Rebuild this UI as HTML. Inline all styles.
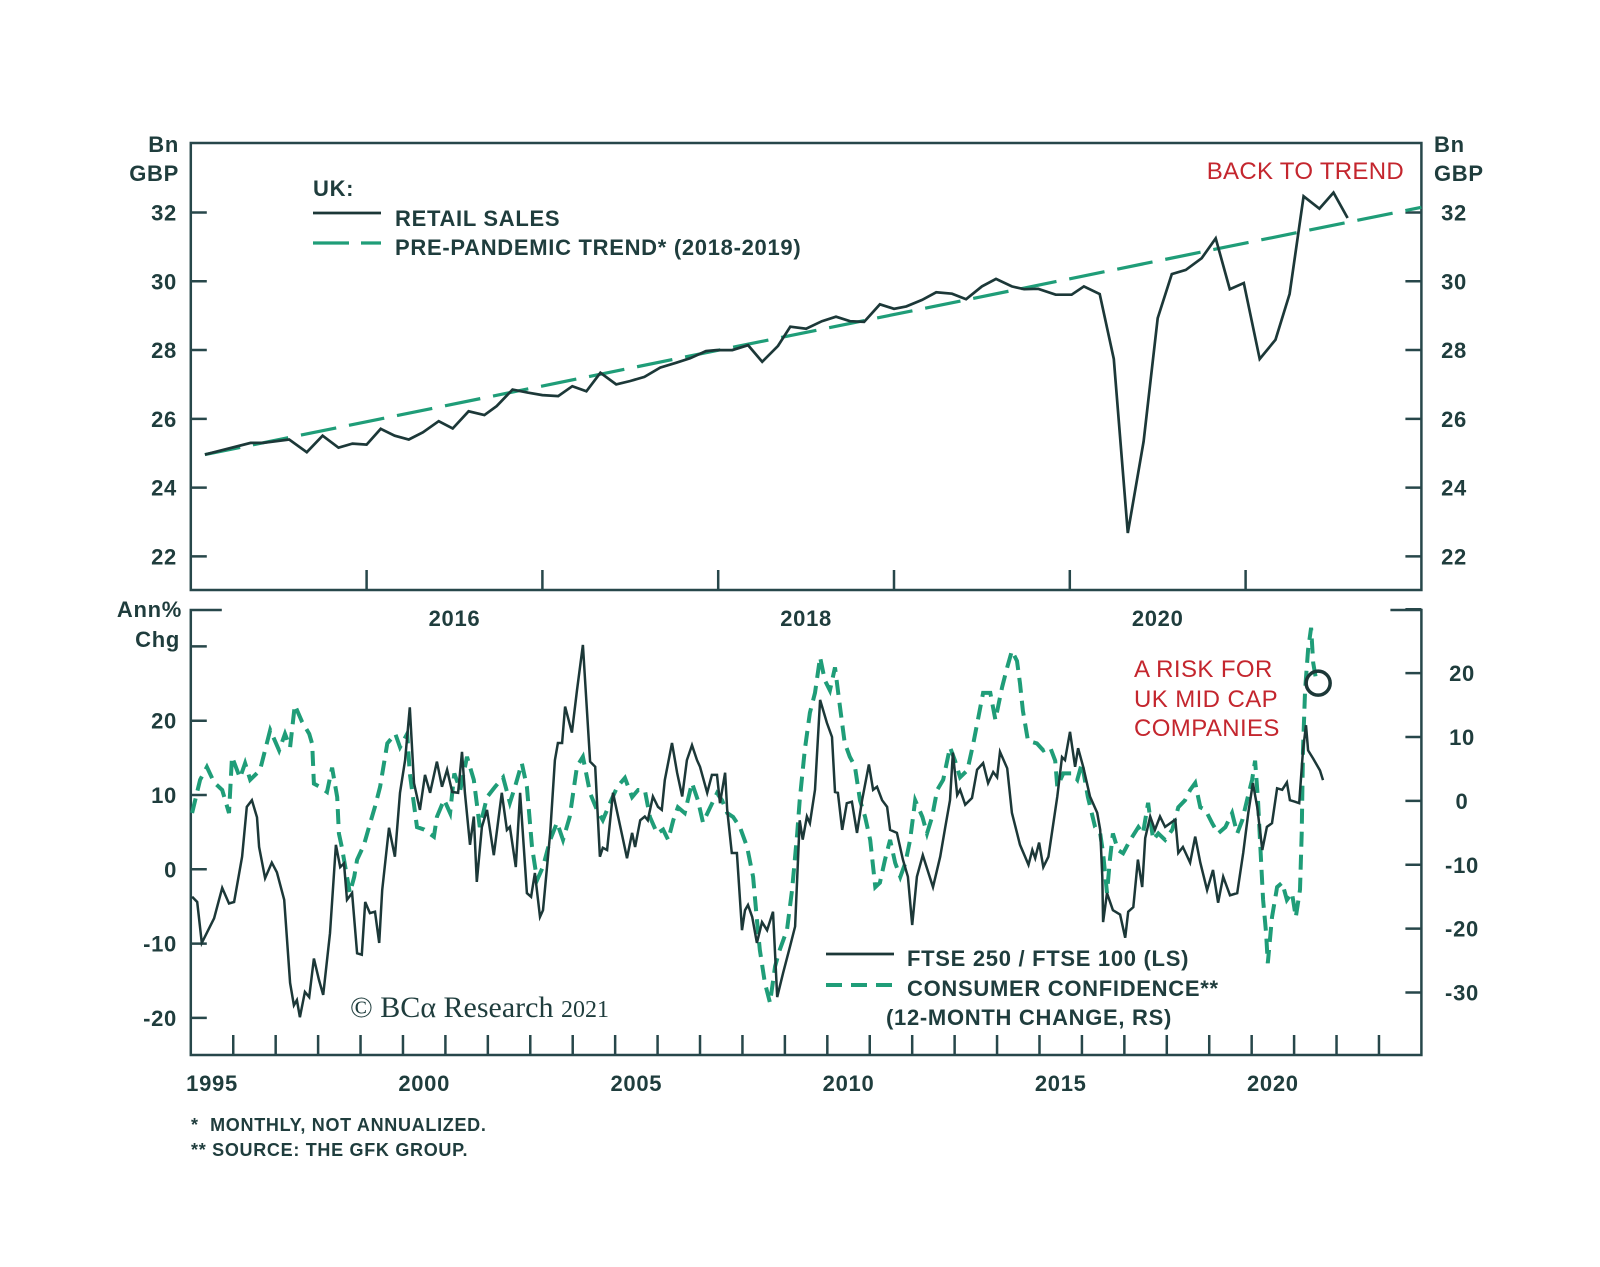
<!DOCTYPE html>
<html><head><meta charset="utf-8">
<style>
html,body{margin:0;padding:0;background:#fff;}
svg{display:block;}
text{font-family:"Liberation Sans",Arial,sans-serif;font-weight:bold;fill:#1f3d3d;letter-spacing:0.7px;}
</style></head>
<body>
<svg id="chart" width="1600" height="1267" viewBox="0 0 1600 1267" xmlns="http://www.w3.org/2000/svg">
<rect x="0" y="0" width="1600" height="1267" fill="#fff"/>
<g id="topPanel"></g>
<g id="botPanel"></g>
<g id="ann">
  <text x="313" y="196" font-size="22">UK:</text>
  <line x1="313" y1="213" x2="381" y2="213" stroke="#1c3838" stroke-width="2.7"/>
  <text x="395" y="226" font-size="22">RETAIL SALES</text>
  <line x1="313" y1="243" x2="381" y2="243" stroke="#1f9d78" stroke-width="3.2" stroke-dasharray="36 12"/>
  <text x="395" y="255" font-size="22">PRE-PANDEMIC TREND* (2018-2019)</text>
  <text x="1404" y="179" font-size="24" text-anchor="end" style="fill:#c4262e;font-weight:normal;letter-spacing:0.3px">BACK TO TREND</text>
  <text x="1134" y="677" font-size="24" style="fill:#c4262e;font-weight:normal;letter-spacing:0.4px">A RISK FOR</text>
  <text x="1134" y="707" font-size="24" style="fill:#c4262e;font-weight:normal;letter-spacing:0.4px">UK MID CAP</text>
  <text x="1134" y="736" font-size="24" style="fill:#c4262e;font-weight:normal;letter-spacing:0.4px">COMPANIES</text>
  <line x1="826" y1="954" x2="894" y2="954" stroke="#1c3838" stroke-width="2.7"/>
  <text x="907" y="966" font-size="22">FTSE 250 / FTSE 100 (LS)</text>
  <line x1="826" y1="985" x2="894" y2="985" stroke="#1f9d78" stroke-width="4" stroke-dasharray="16 9"/>
  <text x="907" y="996" font-size="22">CONSUMER CONFIDENCE**</text>
  <text x="886" y="1025" font-size="22">(12-MONTH CHANGE, RS)</text>
  <text x="350" y="1017" font-size="30" style="font-family:'Liberation Serif',serif;font-weight:normal;letter-spacing:0">© BCα Research <tspan font-size="24">2021</tspan></text>
  <text x="191" y="1131" font-size="18">*&#160;&#160;MONTHLY, NOT ANNUALIZED.</text>
  <text x="191" y="1156" font-size="18">** SOURCE: THE GFK GROUP.</text>
  <text x="179" y="152" font-size="22" text-anchor="end">Bn</text>
  <text x="179" y="181" font-size="22" text-anchor="end">GBP</text>
  <text x="1434" y="152" font-size="22">Bn</text>
  <text x="1434" y="181" font-size="22">GBP</text>
  <text x="182" y="617" font-size="22" text-anchor="end">Ann%</text>
  <text x="180" y="647" font-size="22" text-anchor="end">Chg</text>
</g>
</svg>
<script>
// ---------- TOP PANEL DATA ----------
const rsYears = [2015.08,2015.34,2015.41,2015.56,2015.66,2015.75,2015.84,2015.92,2016.0,2016.08,2016.16,2016.24,2016.32,2016.41,2016.49,2016.58,2016.67,2016.74,2016.83,2016.92,2017.0,2017.09,2017.17,2017.25,2017.33,2017.42,2017.5,2017.58,2017.67,2017.76,2017.84,2017.93,2017.99,2018.08,2018.17,2018.25,2018.34,2018.41,2018.5,2018.59,2018.67,2018.75,2018.83,2018.92,2019.0,2019.07,2019.16,2019.24,2019.33,2019.41,2019.5,2019.58,2019.67,2019.74,2019.82,2019.92,2020.01,2020.08,2020.17,2020.25,2020.33,2020.42,2020.5,2020.58,2020.66,2020.75,2020.83,2020.91,2020.99,2021.08,2021.17,2021.25,2021.33,2021.42,2021.5,2021.58];
const rsValues = [24.96,25.3,25.3,25.4,25.03,25.51,25.16,25.28,25.25,25.71,25.51,25.4,25.61,25.93,25.72,26.22,26.11,26.37,26.85,26.76,26.69,26.66,26.95,26.8,27.34,27.0,27.1,27.22,27.49,27.63,27.76,27.97,28.0,28.0,28.14,27.66,28.12,28.68,28.62,28.84,28.97,28.84,28.82,29.33,29.2,29.27,29.46,29.68,29.64,29.48,29.85,30.07,29.85,29.77,29.78,29.61,29.61,29.85,29.63,27.74,22.68,25.34,28.93,30.21,30.33,30.67,31.25,29.77,29.95,27.74,28.3,29.63,32.47,32.11,32.58,31.84];
const trendYears = [2015.08, 2022.0];
const trendValues = [24.96, 32.15];
const topYTicks = [22,24,26,28,30,32];
const topXTicks = [2016,2017,2018,2019,2020,2021];
const topXLabels = ["2016","2018","2020"];
const topXLabelYears = [2016,2018,2020];

// ---------- BOTTOM PANEL DATA ----------
const ftseYears = [1995.03,1995.15,1995.26,1995.55,1995.74,1995.9,1996.02,1996.21,1996.32,1996.44,1996.56,1996.61,1996.75,1996.91,1997.03,1997.2,1997.34,1997.43,1997.5,1997.57,1997.69,1997.79,1997.9,1998.02,1998.12,1998.28,1998.42,1998.52,1998.61,1998.68,1998.8,1998.92,1999.03,1999.11,1999.22,1999.34,1999.44,1999.51,1999.67,1999.81,1999.93,2000.05,2000.16,2000.26,2000.4,2000.52,2000.64,2000.8,2000.92,2001.04,2001.16,2001.3,2001.39,2001.46,2001.58,2001.67,2001.74,2001.86,2001.98,2002.14,2002.33,2002.45,2002.52,2002.66,2002.76,2002.92,2003.02,2003.11,2003.23,2003.3,2003.47,2003.58,2003.65,2003.75,2003.82,2003.98,2004.1,2004.24,2004.41,2004.53,2004.64,2004.71,2004.81,2004.95,2005.07,2005.19,2005.28,2005.4,2005.47,2005.59,2005.7,2005.77,2005.89,2006.01,2006.1,2006.17,2006.34,2006.46,2006.58,2006.69,2006.81,2006.93,2007.0,2007.17,2007.28,2007.4,2007.47,2007.59,2007.64,2007.75,2007.87,2007.99,2008.06,2008.13,2008.23,2008.34,2008.46,2008.58,2008.72,2008.82,2008.96,2009.12,2009.24,2009.35,2009.42,2009.52,2009.59,2009.71,2009.83,2009.99,2010.11,2010.18,2010.25,2010.35,2010.46,2010.58,2010.7,2010.82,2010.98,2011.08,2011.17,2011.29,2011.41,2011.48,2011.64,2011.78,2011.9,2012.0,2012.11,2012.25,2012.49,2012.66,2012.78,2012.89,2012.96,2013.06,2013.13,2013.25,2013.41,2013.53,2013.67,2013.79,2013.91,2014.0,2014.07,2014.24,2014.35,2014.54,2014.66,2014.74,2014.83,2014.9,2014.99,2015.09,2015.21,2015.42,2015.53,2015.6,2015.72,2015.84,2015.91,2016.03,2016.19,2016.36,2016.43,2016.48,2016.5,2016.59,2016.73,2016.9,2017.02,2017.09,2017.21,2017.32,2017.42,2017.49,2017.61,2017.72,2017.84,2017.96,2018.08,2018.2,2018.27,2018.38,2018.55,2018.67,2018.79,2018.95,2019.09,2019.21,2019.33,2019.49,2019.66,2019.8,2019.92,2020.03,2020.13,2020.25,2020.36,2020.48,2020.6,2020.72,2020.83,2020.9,2021.02,2021.12,2021.21,2021.28,2021.33,2021.45,2021.61,2021.68];
const ftseValues = [-3.7,-4.4,-9.9,-6.6,-2.5,-4.6,-4.4,1.7,8.4,9.3,7.0,3.0,-1.2,0.9,-0.4,-4.1,-15.3,-18.3,-17.6,-19.9,-16.5,-17.2,-12.0,-14.9,-16.9,-8.6,3.3,0.3,0.8,-4.1,-3.2,-11.3,-11.5,-4.4,-5.9,-5.7,-9.9,-2.8,5.6,1.7,10.3,14.7,21.8,11.6,8.0,12.7,10.3,14.5,11.1,13.4,10.4,10.3,15.8,10.3,3.3,7.1,-1.7,5.7,8.0,1.9,10.3,5.3,5.7,0.3,10.3,-3.2,-3.7,-0.5,-6.4,-5.5,4.9,14.7,17.0,17.0,21.9,18.4,24.1,30.2,14.5,13.8,1.7,2.9,2.6,10.3,7.1,3.9,1.5,4.9,3.0,6.6,7.1,6.6,9.8,8.4,8.0,12.0,17.0,13.0,9.8,14.7,16.7,14.7,13.8,10.3,12.7,12.7,8.9,13.0,8.0,2.2,2.2,-8.2,-5.5,-4.8,-6.4,-9.9,-7.1,-8.2,-5.7,-17.2,-13.9,-10.4,-7.7,6.6,4.0,7.1,6.2,10.7,22.8,19.7,17.8,10.4,10.3,5.3,8.9,9.1,4.9,9.3,14.1,10.7,11.1,9.3,8.4,5.3,4.9,1.3,-1.0,-7.5,-1.0,1.9,-2.4,1.7,5.7,9.3,15.7,10.0,10.7,8.7,9.6,13.4,14.3,11.6,13.1,12.4,15.8,13.6,7.6,3.3,1.7,0.6,2.6,1.5,3.6,0.3,1.7,9.8,15.1,14.7,18.5,13.8,16.3,13.8,9.8,7.6,5.3,-1.0,-7.1,-3.2,-5.5,-6.1,-9.2,-5.7,-5.1,1.3,-2.4,4.2,7.1,5.3,7.1,5.7,6.2,6.7,2.2,3.0,0.9,4.4,0.9,-2.8,-0.1,-4.5,-1.0,-3.5,-3.2,2.2,7.6,11.6,8.4,2.6,5.7,6.2,10.9,10.7,11.7,9.3,9.1,8.9,16.0,19.4,16.0,14.9,13.3,12.0];
const confYears = [1995.03,1995.22,1995.38,1995.55,1995.74,1995.9,1995.97,1996.16,1996.28,1996.4,1996.63,1996.87,1997.08,1997.22,1997.34,1997.45,1997.62,1997.79,1997.86,1997.9,1998.04,1998.21,1998.33,1998.45,1998.49,1998.56,1998.68,1998.75,1998.85,1998.92,1999.08,1999.2,1999.34,1999.46,1999.63,1999.82,1999.93,2000.1,2000.16,2000.33,2000.5,2000.73,2000.8,2000.97,2001.11,2001.21,2001.35,2001.51,2001.67,2001.81,2001.98,2002.17,2002.36,2002.52,2002.64,2002.8,2002.92,2003.04,2003.16,2003.3,2003.47,2003.63,2003.77,2003.93,2004.1,2004.24,2004.41,2004.57,2004.71,2004.88,2005.05,2005.23,2005.4,2005.54,2005.7,2005.82,2005.99,2006.13,2006.25,2006.37,2006.48,2006.64,2006.81,2006.95,2007.07,2007.24,2007.4,2007.52,2007.64,2007.78,2007.94,2008.11,2008.25,2008.34,2008.41,2008.53,2008.65,2008.77,2008.88,2009.05,2009.17,2009.29,2009.35,2009.47,2009.59,2009.71,2009.83,2009.94,2010.06,2010.18,2010.3,2010.41,2010.53,2010.65,2010.77,2010.89,2011.01,2011.13,2011.24,2011.36,2011.48,2011.6,2011.72,2011.84,2011.95,2012.07,2012.24,2012.35,2012.47,2012.59,2012.73,2012.89,2013.01,2013.13,2013.3,2013.44,2013.56,2013.67,2013.84,2013.96,2014.12,2014.24,2014.35,2014.47,2014.54,2014.61,2014.73,2014.94,2015.09,2015.25,2015.37,2015.42,2015.56,2015.77,2015.89,2016.0,2016.14,2016.31,2016.43,2016.5,2016.59,2016.66,2016.73,2016.85,2016.97,2017.14,2017.33,2017.44,2017.56,2017.68,2017.8,2017.96,2018.13,2018.27,2018.43,2018.55,2018.67,2018.79,2018.91,2019.07,2019.21,2019.38,2019.54,2019.66,2019.78,2019.89,2020.01,2020.08,2020.15,2020.22,2020.27,2020.34,2020.38,2020.48,2020.6,2020.72,2020.83,2020.95,2021.04,2021.14,2021.18,2021.21,2021.26,2021.33,2021.4,2021.45,2021.52];
const confValues = [-1.9,3.3,5.3,2.9,1.7,-1.9,6.9,3.6,5.9,3.3,4.8,11.1,7.9,10.5,8.4,15.0,12.4,10.5,8.9,2.7,2.2,1.4,5.2,0.6,-5.1,-7.3,-11.9,-14.4,-11.9,-9.2,-6.9,-4.1,-0.9,2.2,9.0,10.5,8.4,10.5,4.3,-4.1,-4.5,-5.6,-2.5,0.2,-1.9,4.3,1.7,6.9,3.3,-4.1,0.6,2.2,3.7,-0.3,2.2,5.9,2.2,-7.2,-12.4,-10.3,-6.1,-3.4,-6.1,-2.5,5.4,6.9,1.2,-1.4,-3.0,-0.3,2.2,3.6,0.6,1.7,1.7,-2.5,-5.1,-4.5,-6.1,-3.0,-1.0,-1.9,2.8,0.1,-3.4,-1.0,1.2,0.1,-1.9,-2.5,-4.1,-7.2,-11.9,-18.6,-23.3,-28.5,-31.6,-25.9,-23.3,-20.2,-13.9,-5.1,0.1,8.0,13.8,16.9,22.5,18.9,17.3,20.9,14.7,9.1,6.9,5.4,0.1,-2.5,-6.1,-13.5,-12.8,-9.2,-6.1,-9.7,-11.9,-9.7,-6.1,0.1,-2.5,-5.1,-2.5,1.7,3.3,8.4,6.3,3.7,4.8,9.0,13.1,16.9,16.9,12.7,17.8,20.9,23.5,21.9,18.4,14.1,9.4,9.0,7.9,8.4,6.3,2.2,4.3,4.3,3.3,5.9,0.6,-4.1,-5.1,-8.2,-14.4,-9.2,-5.1,-7.7,-8.2,-6.1,-4.1,-5.1,-0.3,-6.1,-5.1,-6.1,-4.5,-1.0,0.1,1.7,2.8,-1.0,-1.4,-3.5,-5.1,-4.1,-1.9,-5.1,-3.0,0.1,3.3,6.3,0.1,-9.2,-15.5,-20.7,-25.4,-18.2,-13.5,-12.8,-15.5,-14.4,-18.2,-13.9,-5.1,8.0,17.4,23.7,27.1,21.6,18.9];
const botLeftTicks = [30,20,10,0,-10,-20];
const botLeftLabels = ["","20","10","0","-10","-20"];
const botRightTicks = [30,20,10,0,-10,-20,-30];
const botRightLabels = ["","20","10","0","-10","-20","-30"];
const botXLabelYears = [1995,2000,2005,2010,2015,2020];
const botXLabels = ["1995","2000","2005","2010","2015","2020"];

// ---------- GEOMETRY / SCALES ----------
const L = 190.8, R = 1421.4;
const T1 = 143, B1 = 590;
const T2 = 610, B2 = 1055;
const AX = "#27474a", DARK = "#1c3838", GREEN = "#1f9d78";
const xTop = y => L + (y - 2015) / (2022 - 2015) * (R - L);
const yTop = v => 212.5 + (32 - v) * 34.39;
const xBot = y => L + (y - 1995) / (2024 - 1995) * (R - L);
const yBotL = v => 869.3 - v * 7.43;
const yBotR = v => 800.9 - v * 6.388;
const NS = "http://www.w3.org/2000/svg";
function mk(tag, attrs, parent) {
  const el = document.createElementNS(NS, tag);
  for (const k in attrs) el.setAttribute(k, attrs[k]);
  parent.appendChild(el);
  return el;
}
function pathD(xs, ys, fx, fy) {
  return xs.map((x, i) => (i ? "L" : "M") + fx(x).toFixed(1) + "," + fy(ys[i]).toFixed(1)).join("");
}
const topG = document.getElementById("topPanel");
const botG = document.getElementById("botPanel");

// top frame
let el = mk("rect", {x:L, y:T1, width:R-L, height:B1-T1, fill:"none", stroke:AX, "stroke-width":2.5}, topG);


topYTicks.forEach(v => {
  const y = yTop(v);
  let t = mk("line", {x1:L, y1:y, x2:L+16, y2:y, stroke:AX, "stroke-width":2.5}, topG);
  
  
  t = mk("line", {x1:R-16, y1:y, x2:R, y2:y, stroke:AX, "stroke-width":2.5}, topG);
  
  
  let lb = mk("text", {x:177, y:y+8, "font-size":22, "text-anchor":"end"}, topG);
  lb.textContent = v;
  
  
  lb = mk("text", {x:1454, y:y+8, "font-size":22, "text-anchor":"middle"}, topG);
  lb.textContent = v;
  
  
});
topXTicks.forEach(yr => {
  const x = xTop(yr);
  const t = mk("line", {x1:x, y1:B1-20, x2:x, y2:B1, stroke:AX, "stroke-width":2.5}, topG);
  
  
});
topXLabelYears.forEach((yr, i) => {
  const lb = mk("text", {x:xTop(yr + 0.5), y:626, "font-size":22, "text-anchor":"middle"}, topG);
  lb.textContent = topXLabels[i];
  
  
});
el = mk("path", {d:pathD(trendYears, trendValues, xTop, yTop), fill:"none", stroke:GREEN, "stroke-width":3.2, "stroke-dasharray":"36 13"}, topG);


el = mk("path", {d:pathD(rsYears, rsValues, xTop, yTop), fill:"none", stroke:DARK, "stroke-width":2.7}, topG);



// bottom frame
el = mk("path", {d:`M${L+31},${T2}H${L}V${B2}H${R}V${T2}H${R-31}`, fill:"none", stroke:AX, "stroke-width":2.5}, botG);


botLeftTicks.forEach((v, i) => {
  const y = yBotL(v);
  const t = mk("line", {x1:L, y1:y, x2:L+16, y2:y, stroke:AX, "stroke-width":2.5}, botG);
  
  
  if (botLeftLabels[i]) {
    const lb = mk("text", {x:177, y:y+8, "font-size":22, "text-anchor":"end"}, botG);
    lb.textContent = botLeftLabels[i];
    
    
  }
});
botRightTicks.forEach((v, i) => {
  const y = yBotR(v);
  const t = mk("line", {x1:R-16, y1:y, x2:R, y2:y, stroke:AX, "stroke-width":2.5}, botG);
  
  
  if (botRightLabels[i]) {
    const lb = mk("text", {x:1462, y:y+8, "font-size":22, "text-anchor":"middle"}, botG);
    lb.textContent = botRightLabels[i];
    
    
  }
});
for (let yr = 1996; yr <= 2023; yr++) {
  const x = xBot(yr);
  const t = mk("line", {x1:x, y1:B2-20, x2:x, y2:B2, stroke:AX, "stroke-width":2.5}, botG);
  
  
}
botXLabelYears.forEach((yr, i) => {
  const lb = mk("text", {x:xBot(yr + 0.5), y:1091, "font-size":22, "text-anchor":"middle"}, botG);
  lb.textContent = botXLabels[i];
  
  
});
el = mk("path", {d:pathD(confYears, confValues, xBot, yBotR), fill:"none", stroke:GREEN, "stroke-width":4, "stroke-dasharray":"15 8"}, botG);


el = mk("path", {d:pathD(ftseYears, ftseValues, xBot, yBotL), fill:"none", stroke:DARK, "stroke-width":2.5}, botG);


const lastC = confYears.length - 1;
el = mk("circle", {cx:xBot(confYears[lastC]) + 2, cy:yBotR(confValues[lastC]) + 3, r:12, fill:"none", stroke:DARK, "stroke-width":3.5}, botG);


</script>
</body></html>
